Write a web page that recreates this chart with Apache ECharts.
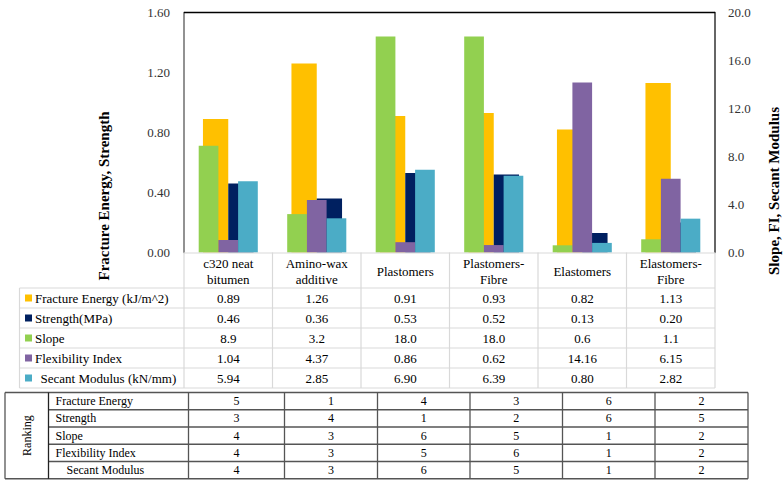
<!DOCTYPE html>
<html>
<head>
<meta charset="utf-8">
<script src="https://cdn.jsdelivr.net/npm/echarts@6/dist/echarts.min.js"></script>
<style>
html,body{margin:0;padding:0;background:#fff;}
#chart{width:784px;height:484px;}
</style>
</head>
<body>
<div id="chart"></div>
<script>
// ---------- data ----------
const categories = ['c320 neat\nbitumen', 'Amino-wax\nadditive', 'Plastomers', 'Plastomers-\nFibre', 'Elastomers', 'Elastomers-\nFibre'];
const seriesNames = ['Fracture Energy (kJ/m^2)', 'Strength(MPa)', 'Slope', 'Flexibility Index', 'Secant Modulus (kN/mm)'];
const fractureEnergy = [0.89, 1.26, 0.91, 0.93, 0.82, 1.13];
const strength = [0.46, 0.36, 0.53, 0.52, 0.13, 0.20];
const slope = [8.9, 3.2, 18.0, 18.0, 0.6, 1.1];
const flexibilityIndex = [1.04, 4.37, 0.86, 0.62, 14.16, 6.15];
const secantModulus = [5.94, 2.85, 6.90, 6.39, 0.80, 2.82];
const valueDecimals = [2, 2, 1, 2, 2];
const leftTicks = ['0.00', '0.40', '0.80', '1.20', '1.60'];
const rightTicks = ['0.0', '4.0', '8.0', '12.0', '16.0', '20.0'];
const rankingNames = ['Fracture Energy', 'Strength', 'Slope', 'Flexibility Index', 'Secant Modulus'];
const rankFE = [5, 1, 4, 3, 6, 2];
const rankStrength = [3, 4, 1, 2, 6, 5];
const rankSlope = [4, 3, 6, 5, 1, 2];
const rankFI = [4, 3, 5, 6, 1, 2];
const rankSecant = [4, 3, 6, 5, 1, 2];
const leftTitle = 'Fracture Energy, Strength';
const rightTitle = 'Slope, FI, Secant Modulus';
const rankingTitle = 'Ranking';

// ---------- styles ----------
const colors = ['#FFC000', '#002060', '#92D050', '#8064A2', '#4BACC6'];
const FONT = 'Liberation Serif';
const seriesValues = [fractureEnergy, strength, slope, flexibilityIndex, secantModulus];
const rankValues = [rankFE, rankStrength, rankSlope, rankFI, rankSecant];

const chart = echarts.init(document.getElementById('chart'), null, {renderer: 'svg'});

const gridLeft = 184, gridRight = 715, gridTop = 12.5, gridBottom = 252.5;

function catAxis(show) {
  return {
    type: 'category', data: categories, gridIndex: 0, show: show,
    axisLine: {show: false}, axisTick: {show: false}, axisLabel: {show: false}
  };
}

const series = seriesNames.map((name, i) => {
  const primary = i < 2;
  return {
    name: name,
    type: 'bar',
    xAxisIndex: primary ? 0 : 1,
    yAxisIndex: primary ? 0 : 1,
    data: seriesValues[i],
    barWidth: primary ? 25.3 : 19.7,
    barGap: '0%',
    z: primary ? 2 : 3,
    itemStyle: {color: colors[i]},
    silent: true
  };
});

chart.setOption({
  animation: false,
  textStyle: {fontFamily: FONT},
  grid: {left: gridLeft, right: 784 - gridRight, top: gridTop, bottom: 484 - gridBottom, containLabel: false},
  xAxis: [catAxis(true), catAxis(false)],
  yAxis: [
    {
      type: 'value', min: 0, max: 1.6, interval: 0.4, position: 'left',
      axisLine: {show: true, lineStyle: {color: '#6e6e6e', width: 1.5}},
      axisTick: {show: false}, splitLine: {show: false},
      axisLabel: {margin: 14, color: '#333', fontFamily: FONT, fontSize: 13,
        formatter: (v) => leftTicks[Math.round(v / 0.4)]}
    },
    {
      type: 'value', min: 0, max: 20, interval: 4, position: 'right',
      axisLine: {show: true, lineStyle: {color: '#333', width: 1.5}},
      axisTick: {show: false}, splitLine: {show: false},
      axisLabel: {margin: 13, color: '#333', fontFamily: FONT, fontSize: 13,
        formatter: (v) => rightTicks[Math.round(v / 4)]}
    }
  ],
  series: series
});

// ---------- tables (graphic) ----------
const g = [];
function line(x1, y1, x2, y2, stroke, w) {
  g.push({type: 'line', silent: true, z: 10, shape: {x1, y1, x2, y2}, style: {stroke, lineWidth: w}});
}
function text(x, y, t, opt) {
  opt = opt || {};
  g.push({
    type: 'text', silent: true, z: 11, x: x, y: y, rotation: opt.rotation || 0,
    style: {
      text: t, x: 0, y: 0, fill: opt.fill || '#000', fontFamily: FONT,
      fontSize: opt.fontSize || 13, fontWeight: opt.fontWeight || 'normal',
      align: opt.align || 'center', verticalAlign: 'middle', lineHeight: opt.lineHeight || 16
    }
  });
}

// top border of plot
line(gridLeft, gridTop, gridRight, gridTop, '#000', 1.5);

// axis titles
text(104, 196, leftTitle, {fontSize: 15, fontWeight: 'bold', rotation: Math.PI / 2});
text(774, 191, rightTitle, {fontSize: 15, fontWeight: 'bold', rotation: Math.PI / 2});

// data table
const centers = categories.map((c, i) => chart.convertToPixel({xAxisIndex: 0}, i));
const band = (gridRight - gridLeft) / categories.length;
const tblGrey = '#d9d9d9';
const headerTop = gridBottom, rowTop = 288, rowH = 20, nRows = seriesNames.length;
const tableBottom = rowTop + rowH * nRows;
const legendLeft = 19.5;
line(gridLeft, headerTop + 0.5, gridRight, headerTop + 0.5, tblGrey, 1.2);
for (let r = 0; r <= nRows; r++) {
  const y = rowTop + r * rowH;
  line(legendLeft, y, gridRight, y, tblGrey, 1.2);
}
line(legendLeft, rowTop, legendLeft, tableBottom, tblGrey, 1.2);
for (let c = 0; c <= categories.length; c++) {
  const x = gridLeft + c * band;
  line(x, headerTop, x, tableBottom, tblGrey, 1.2);
}
categories.forEach((cat, i) => text(centers[i], 271, cat, {lineHeight: 16}));
seriesNames.forEach((name, r) => {
  const cy = rowTop + r * rowH + rowH / 2;
  g.push({type: 'rect', silent: true, z: 11, shape: {x: 25, y: cy - 3.5, width: 7, height: 7}, style: {fill: colors[r]}});
  text(r === 4 ? 40.5 : 35, cy, name, {align: 'left'});
  seriesValues[r].forEach((v, i) => text(centers[i], cy, v.toFixed(valueDecimals[r])));
});

// ranking table
const rkCols = [5, 48.5, 188.5, 284.5, 377.5, 470, 562.5, 655, 748];
const rkTop = 392.5, rkH = 17.25, rkRows = rankingNames.length;
const rkBottom = rkTop + rkH * rkRows;
const rkLine = '#555';
line(rkCols[0], rkTop, rkCols[rkCols.length - 1], rkTop, rkLine, 1.3);
line(rkCols[0], rkBottom, rkCols[rkCols.length - 1], rkBottom, rkLine, 1.3);
for (let r = 1; r < rkRows; r++) {
  const y = rkTop + r * rkH;
  line(rkCols[1], y, rkCols[rkCols.length - 1], y, rkLine, 1.3);
}
rkCols.forEach((x, i) => line(x, rkTop, x, rkBottom, i === 1 ? '#222' : rkLine, 1.3));
text((rkCols[0] + rkCols[1]) / 2, (rkTop + rkBottom) / 2, rankingTitle, {fontSize: 12, rotation: Math.PI / 2});
rankingNames.forEach((name, r) => {
  const cy = rkTop + r * rkH + rkH / 2;
  text(r === 4 ? 66.5 : 55.5, cy, name, {align: 'left', fontSize: 12});
  rankValues[r].forEach((v, i) => text((rkCols[i + 2] + rkCols[i + 3]) / 2, cy, String(v), {fontSize: 12}));
});

chart.setOption({graphic: {elements: g}});
</script>
</body>
</html>
